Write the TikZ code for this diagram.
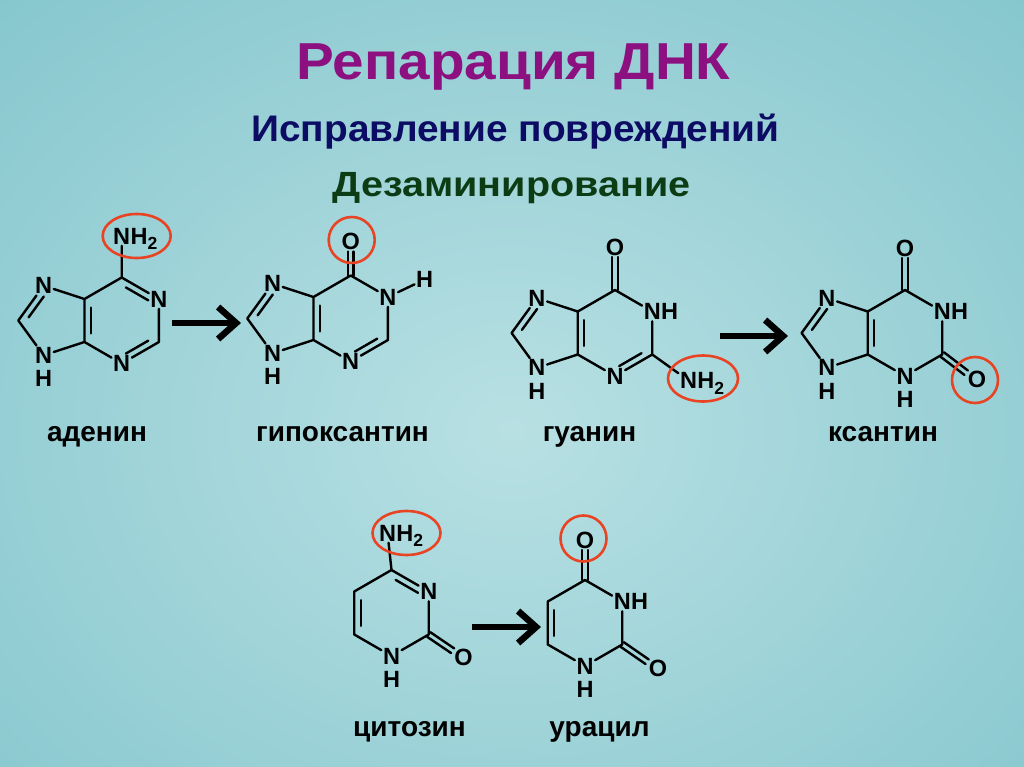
\documentclass[tikz,border=0pt]{standalone}
\usepackage{fontspec}
\setmainfont{Liberation Sans}
\usetikzlibrary{calc,positioning,arrows.meta}

\definecolor{bgin}{RGB}{184,224,227}
\definecolor{bgout}{RGB}{100,182,192}
\definecolor{titlepurple}{RGB}{140,16,128}
\definecolor{subnavy}{RGB}{12,12,100}
\definecolor{subgreen}{RGB}{12,60,20}
\definecolor{markred}{RGB}{232,68,36}

\newcommand\subtwo{\raisebox{-5.7pt}{\fontsize{17.5}{17.5}\selectfont 2}}
% inner line of a ring double bond, a -> b clockwise
\newcommand\inb[2]{\draw[bond] ($(#1)!0.2!(#2)!6.5pt!-90:(#2)$) -- ($(#1)!0.8!(#2)!6.5pt!-90:(#2)$);}
% C=O outside the ring
\newcommand\exo[2]{\draw[bond] ($(#1)!2.8pt!90:(#2)$) -- ($(#2)!2.8pt!-90:(#1)$)
  ($(#1)!2.8pt!-90:(#2)$) -- ($(#2)!2.8pt!90:(#1)$);}

\tikzset{
  bond/.style={line width=2.4pt, line cap=round, line join=round},
  atom/.style={inner sep=1.5pt, font=\fontsize{23.5}{23.5}\selectfont\bfseries},
  basename/.style={anchor=base, font=\fontsize{28}{28}\selectfont\bfseries},
  redmark/.style={draw=markred, line width=2.6pt},
  arr/.style={line width=6.5pt, -{Straight Barb[length=18pt,width=32pt]}},
}

\begin{document}
\begin{tikzpicture}[x=1pt, y=-1pt]
  \useasboundingbox (0,0) rectangle (1024,767);
  \begin{scope}
    \clip (0,0) rectangle (1024,767);
    \fill[bgout] (0,0) rectangle (1024,767);
    \shade[inner color=bgin, outer color=bgout] (512,430) ellipse [x radius=1250, y radius=1000];
  \end{scope}

  \node[anchor=base, text=titlepurple, font=\fontsize{52}{52}\selectfont\bfseries] (title) at (513.5,80) {\scalebox{1.09}[1]{Репарация ДНК}};
  \node[anchor=base, text=subnavy, font=\fontsize{37}{37}\selectfont\bfseries] (sub) at (515.5,141.5) {\scalebox{1.05}[1]{Исправление повреждений}};
  \node[anchor=base, text=subgreen, font=\fontsize{35}{35}\selectfont\bfseries] (deam) at (511.5,197) {\scalebox{1.13}[1]{Дезаминирование}};

  % adenine
  \begin{scope}[shift={(121.7,320.5)}, name prefix=ade-]
    \coordinate (C6) at (-90:43);
    \node[atom] (N1) at (-30:43) {N};
    \coordinate (C2) at (30:43);
    \node[atom] (N3) at (90:43) {N};
    \coordinate (C4) at (150:43);
    \coordinate (C5) at (210:43);
    \node[atom] (N7) at (-78.1,-34.8) {N};
    \coordinate (C8) at (-103.4,0);
    \node[atom] (N9) at (-78.1,34.8) {N};
    \node[atom, below=4pt of N9] (H9) {H};
    \node[atom] (N6) at (0,-84.5) {N};
    \node[atom, base right=-3pt of N6] (H6) {H\subtwo};
    \draw[bond] (C6) -- (N1) -- (C2) -- (N3) -- (C4) -- (C5) -- (C6) -- (N6)
      (C5) -- (N7) -- (C8) -- (N9) -- (C4);
    \inb{C6}{N1} \inb{C2}{N3} \inb{C4}{C5} \inb{C8}{N7}
    \draw[redmark] (15,-84.5) ellipse [x radius=34, y radius=22];
  \end{scope}

  % hypoxanthine
  \begin{scope}[shift={(350.7,318.5)}, name prefix=hyp-]
    \coordinate (C6) at (-90:43);
    \node[atom] (N1) at (-30:43) {N};
    \coordinate (C2) at (30:43);
    \node[atom] (N3) at (90:43) {N};
    \coordinate (C4) at (150:43);
    \coordinate (C5) at (210:43);
    \node[atom] (N7) at (-78.1,-34.8) {N};
    \coordinate (C8) at (-103.4,0);
    \node[atom] (N9) at (-78.1,34.8) {N};
    \node[atom, below=4pt of N9] (H9) {H};
    \node[atom] (O) at (0,-77) {O};
    \node[atom] (H1) at (74,-39) {H};
    \draw[bond] (C6) -- (N1) -- (C2) -- (N3) -- (C4) -- (C5) -- (C6)
      (C5) -- (N7) -- (C8) -- (N9) -- (C4) (N1) -- (H1);
    \exo{C6}{O.south}
    \inb{C2}{N3} \inb{C4}{C5} \inb{C8}{N7}
    \draw[redmark] (1,-78.5) circle [radius=23];
  \end{scope}

  % guanine
  \begin{scope}[shift={(615,333)}, name prefix=gua-]
    \coordinate (C6) at (-90:43);
    \node[atom] (N1) at (-30:43) {N};
    \node[atom, base right=-3pt of N1] (H1) {H};
    \coordinate (C2) at (30:43);
    \node[atom] (N3) at (90:43) {N};
    \coordinate (C4) at (150:43);
    \coordinate (C5) at (210:43);
    \node[atom] (N7) at (-78.1,-34.8) {N};
    \coordinate (C8) at (-103.4,0);
    \node[atom] (N9) at (-78.1,34.8) {N};
    \node[atom, below=4pt of N9] (H9) {H};
    \node[atom] (O) at (0,-86) {O};
    \node[atom] (N2) at (73.5,47.5) {N};
    \node[atom, base right=-3pt of N2] (H2) {H\subtwo};
    \draw[bond] (C6) -- (N1) -- (C2) -- (N3) -- (C4) -- (C5) -- (C6)
      (C5) -- (N7) -- (C8) -- (N9) -- (C4) (C2) -- (N2);
    \exo{C6}{O.south}
    \inb{C2}{N3} \inb{C4}{C5} \inb{C8}{N7}
    \draw[redmark] (88,45.5) ellipse [x radius=35, y radius=23];
  \end{scope}

  % xanthine
  \begin{scope}[shift={(905,333)}, name prefix=xan-]
    \coordinate (C6) at (-90:43);
    \node[atom] (N1) at (-30:43) {N};
    \node[atom, base right=-3pt of N1] (H1) {H};
    \coordinate (C2) at (30:43);
    \node[atom] (N3) at (90:43) {N};
    \node[atom, below=4pt of N3] (H3) {H};
    \coordinate (C4) at (150:43);
    \coordinate (C5) at (210:43);
    \node[atom] (N7) at (-78.1,-34.8) {N};
    \coordinate (C8) at (-103.4,0);
    \node[atom] (N9) at (-78.1,34.8) {N};
    \node[atom, below=4pt of N9] (H9) {H};
    \node[atom] (O6) at (0,-85) {O};
    \node[atom] (O2) at (72,46) {O};
    \draw[bond] (C6) -- (N1) -- (C2) -- (N3) -- (C4) -- (C5) -- (C6)
      (C5) -- (N7) -- (C8) -- (N9) -- (C4);
    \exo{C6}{O6.south} \exo{C2}{O2.150}
    \inb{C4}{C5} \inb{C8}{N7}
    \draw[redmark] (70,47) circle [radius=23];
  \end{scope}

  % cytosine
  \begin{scope}[shift={(391.5,613)}, name prefix=cyt-]
    \coordinate (C4) at (-90:43);
    \node[atom] (N3) at (-30:43) {N};
    \coordinate (C2) at (30:43);
    \node[atom] (N1) at (90:43) {N};
    \node[atom, below=4pt of N1] (H1) {H};
    \coordinate (C6) at (150:43);
    \coordinate (C5) at (210:43);
    \node[atom] (N4) at (-4,-80) {N};
    \node[atom, base right=-3pt of N4] (H4) {H\subtwo};
    \node[atom] (O) at (72,44) {O};
    \draw[bond] (C4) -- (N3) -- (C2) -- (N1) -- (C6) -- (C5) -- (C4) -- (N4);
    \exo{C2}{O.150}
    \inb{C4}{N3} \inb{C6}{C5}
    \draw[redmark] (15,-80) ellipse [x radius=34, y radius=22];
  \end{scope}

  % uracil
  \begin{scope}[shift={(585,623)}, name prefix=ura-]
    \coordinate (C4) at (-90:43);
    \node[atom] (N3) at (-30:43) {N};
    \node[atom, base right=-3pt of N3] (H3) {H};
    \coordinate (C2) at (30:43);
    \node[atom] (N1) at (90:43) {N};
    \node[atom, below=4pt of N1] (H1) {H};
    \coordinate (C6) at (150:43);
    \coordinate (C5) at (210:43);
    \node[atom] (O4) at (0,-83) {O};
    \node[atom] (O2) at (73,45) {O};
    \draw[bond] (C4) -- (N3) -- (C2) -- (N1) -- (C6) -- (C5) -- (C4);
    \exo{C4}{O4.south} \exo{C2}{O2.150}
    \inb{C6}{C5}
    \draw[redmark] (-1.5,-84.5) circle [radius=23];
  \end{scope}

  % arrows
  \coordinate (a1s) at (172,323);
  \coordinate (a1e) at (241,323);
  \coordinate (a2s) at (720,336);
  \coordinate (a2e) at (788,336);
  \coordinate (a3s) at (472,627);
  \coordinate (a3e) at (541,627);
  \draw[arr] (a1s) -- (a1e);
  \draw[arr] (a2s) -- (a2e);
  \draw[arr] (a3s) -- (a3e);

  % names
  \node[basename] (nade) at (97,441.5) {аденин};
  \node[basename] (nhyp) at (342.5,441.5) {гипоксантин};
  \node[basename] (ngua) at (589.5,441.5) {гуанин};
  \node[basename] (nxan) at (883,441.5) {ксантин};
  \node[basename] (ncyt) at (409.5,736.5) {цитозин};
  \node[basename] (nura) at (599.5,736.5) {урацил};
\end{tikzpicture}
\end{document}
